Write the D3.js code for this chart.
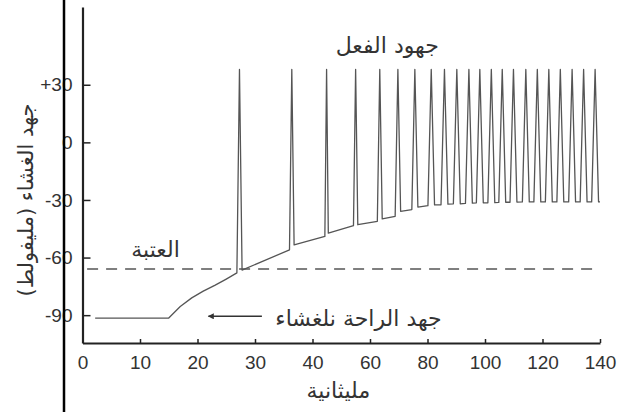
<!DOCTYPE html>
<html lang="ar">
<head>
    <meta charset="UTF-8">
    <title>جهد الغشاء</title>
    <style>
        body, html {
            margin: 0;
            padding: 0;
            background-color: #fff;
            overflow: hidden;
        }

        .axis text {
            font: 19px 'Liberation Sans', Arial, sans-serif;
            fill: #333;
        }

        .axis path, .axis line {
            stroke: #222;
        }

        .label {
            font: 22px 'DejaVu Sans', sans-serif;
            fill: #333;
        }
    </style>
</head>
<body>

<div id="chart"></div>

<script src="https://d3js.org/d3.v7.min.js"></script>
<script>
    const width = 619;
    const height = 412;

    // tick labels (the printed time axis is not evenly scaled)
    const xTicks = [0, 10, 20, 30, 40, 60, 80, 100, 120, 140];
    const yTicks = [30, 0, -30, -60, -90];

    // resting potential, then the slow depolarisation
    const restTime = [2.2, 15];
    const restMv = [-91.5, -91.5];
    const rampTime = [17, 19, 21, 23, 25];
    const rampMv = [-85.5, -81, -77.5, -74.5, -71.2];

    // action potentials
    const spikeTime = [27.3, 36.4, 44.9, 55.0, 63.4, 69.7, 75.6, 81.3, 85.9, 90.2, 94.4,
                       98.2, 102.2, 106.0, 109.9, 114.2, 118.2, 122.2, 126.2, 130.3, 134.3, 138.3];
    const spikeHalfWidth = [0.45, 0.4, 0.6, 0.75, 0.85, 0.95, 1.05, 1.15, 1.2, 1.2, 1.2,
                            1.2, 1.2, 1.2, 1.2, 1.2, 1.2, 1.2, 1.2, 1.2, 1.2, 1.2];
    const preMv = [-68, -56, -49, -43.4, -41.1, -38.5, -35, -33, -32.5, -32, -31.8,
                   -31.5, -31.5, -31.3, -31.2, -31, -31, -31, -31, -31, -31, -31];
    const postMv = [-66.5, -53.4, -47.3, -42.9, -39.9, -35.9, -33.7, -32.6, -32.2, -32, -31.7,
                    -31.5, -31.4, -31.2, -31.1, -31, -31, -31, -31, -31, -31, -31];
    const peakMv = 38;
    const endTime = 140;
    const endMv = -31;

    const thresholdMv = -66;

    const svg = d3.select("#chart")
        .append("svg")
        .attr("width", width)
        .attr("height", height);

    const xRange = xTicks.map((d, i) => 82.5 + i * (600 - 82.5) / (xTicks.length - 1));
    const x = d3.scaleLinear().domain(xTicks).range(xRange);
    const y = d3.scaleLinear().domain([-104.5, 70.5]).range([343, 7]);

    // threshold
    svg.append("line")
        .attr("x1", x(0.8))
        .attr("x2", x(139.5))
        .attr("y1", y(thresholdMv))
        .attr("y2", y(thresholdMv))
        .attr("stroke", "#555")
        .attr("stroke-width", 1.5)
        .attr("stroke-dasharray", "11,8");

    // membrane trace
    const points = restTime.map((t, i) => [t, restMv[i]]);
    rampTime.forEach((t, i) => points.push([t, rampMv[i]]));
    spikeTime.forEach((t, i) => {
        points.push([t - spikeHalfWidth[i], preMv[i]]);
        points.push([t, peakMv]);
        points.push([t + spikeHalfWidth[i], postMv[i]]);
    });
    points.push([endTime, endMv]);

    const line = d3.line()
        .x(d => x(d[0]))
        .y(d => y(d[1]));

    svg.append("path")
        .datum(points)
        .attr("fill", "none")
        .attr("stroke", "#555")
        .attr("stroke-width", 1.3)
        .attr("stroke-linejoin", "round")
        .attr("d", line);

    // axes
    svg.append("g")
        .attr("class", "axis")
        .attr("transform", `translate(0,${y(-104.5)})`)
        .call(d3.axisBottom(x).tickValues(xTicks).tickSizeInner(-4).tickSizeOuter(0).tickPadding(13))
        .call(g => g.select(".domain").attr("stroke-width", 2))
        .call(g => g.selectAll(".tick line").attr("stroke-width", 1.5));

    svg.append("g")
        .attr("class", "axis")
        .attr("transform", `translate(${x(0)},0)`)
        .call(d3.axisLeft(y).tickValues(yTicks).tickSizeInner(-8).tickSizeOuter(0).tickPadding(10)
            .tickFormat(d => d > 0 ? "+" + d : String(d)))
        .call(g => g.select(".domain").attr("stroke-width", 2.2))
        .call(g => g.selectAll(".tick line").attr("stroke-width", 1.5));

    // labels
    svg.append("text")
        .attr("class", "label")
        .attr("x", x(66))
        .attr("y", 53)
        .attr("text-anchor", "middle")
        .text("جهود الفعل");

    svg.append("text")
        .attr("class", "label")
        .attr("x", x(12.7))
        .attr("y", y(-60) - 1)
        .attr("text-anchor", "middle")
        .text("العتبة");

    svg.append("text")
        .attr("class", "label")
        .attr("x", x(56))
        .attr("y", y(-90) + 11)
        .attr("text-anchor", "middle")
        .text("جهد الراحة نلغشاء");

    // arrow pointing at the resting level
    svg.append("defs").append("marker")
        .attr("id", "head")
        .attr("viewBox", "0 0 10 10")
        .attr("refX", 9)
        .attr("refY", 5)
        .attr("markerWidth", 10)
        .attr("markerHeight", 6)
        .attr("markerUnits", "userSpaceOnUse")
        .attr("orient", "auto")
        .append("path")
        .attr("d", "M0,0L10,5L0,10Z")
        .attr("fill", "#333");

    svg.append("line")
        .attr("x1", x(31.2))
        .attr("x2", x(21.9))
        .attr("y1", y(-90.6))
        .attr("y2", y(-90.6))
        .attr("stroke", "#333")
        .attr("stroke-width", 1.5)
        .attr("marker-end", "url(#head)");

    svg.append("text")
        .attr("class", "label")
        .attr("x", x(49))
        .attr("y", 398)
        .attr("text-anchor", "middle")
        .text("مليثانية");

    svg.append("text")
        .attr("class", "label")
        .style("font-size", "21px")
        .attr("transform", "translate(33,200) rotate(-90)")
        .attr("text-anchor", "middle")
        .text("جهد الغشاء (مليفولط)");

    // page border running through the scan
    svg.append("line")
        .attr("x1", 64)
        .attr("x2", 64)
        .attr("y1", 0)
        .attr("y2", height)
        .attr("stroke", "#000")
        .attr("stroke-width", 2.5);
</script>

</body>
</html>
